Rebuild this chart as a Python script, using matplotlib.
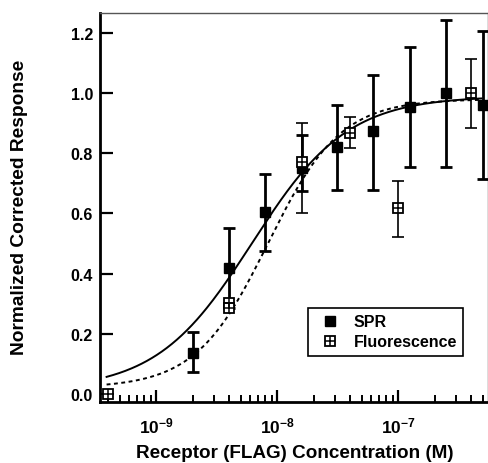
import numpy as np
import matplotlib
matplotlib.use("Agg")
import matplotlib.pyplot as plt
from matplotlib import ticker

plt.rcParams['font.family'] = ['Liberation Sans', 'DejaVu Sans']
plt.rcParams['font.weight'] = 'bold'
plt.rcParams['mathtext.fontset'] = 'custom'
plt.rcParams['mathtext.rm'] = 'Liberation Sans:bold'
plt.rcParams['mathtext.bf'] = 'Liberation Sans:bold'

# ==================
# data
# ==================
# SPR (filled squares)
spr_conc = [2e-9, 4e-9, 8e-9, 1.6e-8, 3.1e-8, 6.25e-8, 1.25e-7, 2.5e-7, 5e-7]
spr_resp = [0.136, 0.418, 0.604, 0.750, 0.819, 0.873, 0.953, 0.999, 0.960]
spr_err_lo = [0.062, 0.133, 0.130, 0.075, 0.140, 0.194, 0.198, 0.244, 0.246]
spr_err_hi = [0.069, 0.133, 0.127, 0.112, 0.141, 0.188, 0.199, 0.244, 0.247]

# fluorescence (open squares with a cross)
fl_conc = [4e-10, 4e-9, 4e-9, 1.6e-8, 4e-8, 1e-7, 4e-7]
fl_resp = [0.0, 0.303, 0.285, 0.772, 0.866, 0.617, 1.0]
fl_err_lo = [0.0, 0.0, 0.0, 0.172, 0.049, 0.094, 0.116]
fl_err_hi = [0.0, 0.0, 0.0, 0.128, 0.053, 0.092, 0.113]

# fitted binding curves (Hill form with small baseline): top, K, n, offset
spr_fit = dict(top=0.99, K=6.2e-9, n=1.1, y0=0.012)
fl_fit = dict(top=0.98, K=8.4e-9, n=1.45, y0=0.02)

tick_labels = [r'$\mathbf{10^{-9}}$', r'$\mathbf{10^{-8}}$', r'$\mathbf{10^{-7}}$']
y_ticks = [0.0, 0.2, 0.4, 0.6, 0.8, 1.0, 1.2]


def hill(x, top, K, n, y0):
    return y0 + (top - y0) * x**n / (K**n + x**n)


conc_model = np.logspace(np.log10(3.9e-10), np.log10(4.9e-7), 300)

fig = plt.figure(figsize=(4.89, 4.64), dpi=100)
ax = fig.add_axes([100 / 489, 1 - 403 / 464, 387.7 / 489, 389 / 464])

# curves
ax.plot(conc_model, hill(conc_model, **spr_fit), color='black', lw=1.4,
        zorder=2)
ax.plot(conc_model, hill(conc_model, **fl_fit), color='black', lw=1.4,
        ls=(0, (2.0, 1.8)), zorder=2)

# error bars
ax.errorbar(spr_conc, spr_resp, yerr=[spr_err_lo, spr_err_hi], fmt='none',
            ecolor='black', elinewidth=2.0, capsize=4, capthick=2.0,
            zorder=3, clip_on=False)
ax.errorbar(fl_conc, fl_resp, yerr=[fl_err_lo, fl_err_hi], fmt='none',
            ecolor='black', elinewidth=1.2, capsize=4.5, capthick=1.2,
            zorder=3, clip_on=False)

# markers
h_spr, = ax.plot(spr_conc, spr_resp, ls='none', marker='s', ms=7.5,
                 mfc='black', mec='black', zorder=4, clip_on=False)
h_fl1, = ax.plot(fl_conc, fl_resp, ls='none', marker='s', ms=7,
                 mfc='white', mec='black', mew=1.3, zorder=5, clip_on=False)
h_fl2, = ax.plot(fl_conc, fl_resp, ls='none', marker='+', ms=7,
                 mec='black', mew=1.1, zorder=6, clip_on=False)

ax.set_xscale('log')
ax.set_xlim(3.44e-10, 5.5e-7)
ax.set_ylim(-0.027, 1.266)

ax.set_xticks([1e-9, 1e-8, 1e-7])
ax.set_xticklabels(tick_labels)
ax.xaxis.set_minor_locator(ticker.LogLocator(base=10, subs=np.arange(2, 10)))
ax.xaxis.set_minor_formatter(ticker.NullFormatter())
ax.set_yticks(y_ticks)
ax.yaxis.set_major_formatter(ticker.FormatStrFormatter('%.1f'))
ax.yaxis.set_minor_locator(ticker.NullLocator())

ax.tick_params(axis='both', which='major', direction='in', length=9,
               width=1.6, labelsize=11.5)
ax.tick_params(axis='x', which='major', labelsize=12.5, pad=10)
ax.tick_params(axis='x', which='minor', direction='in', length=5, width=1.4)
ax.tick_params(axis='y', which='major', pad=5)

for side in ['left', 'bottom']:
    ax.spines[side].set_linewidth(2.0)
for side in ['top', 'right']:
    ax.spines[side].set_linewidth(1.0)
    ax.spines[side].set_color('#555555')

ax.set_xlabel('Receptor (FLAG) Concentration (M)', fontsize=13.6,
              fontweight='bold')
ax.set_ylabel('Normalized Corrected Response', fontsize=13.8,
              fontweight='bold')
ax.xaxis.set_label_coords(0.503, -0.1077)
ax.yaxis.set_label_coords(-0.185, 0.503)

leg = ax.legend([h_spr, (h_fl1, h_fl2)], ['SPR', 'Fluorescence'],
                loc='upper left', bbox_to_anchor=(0.537, 0.2416),
                fancybox=False, framealpha=1, edgecolor='black',
                fontsize=11.5, handlelength=1.95, handletextpad=0.5,
                borderpad=0.4, labelspacing=0.3, borderaxespad=0)
leg.get_frame().set_linewidth(1.2)

fig.savefig('out.png', dpi=100)
